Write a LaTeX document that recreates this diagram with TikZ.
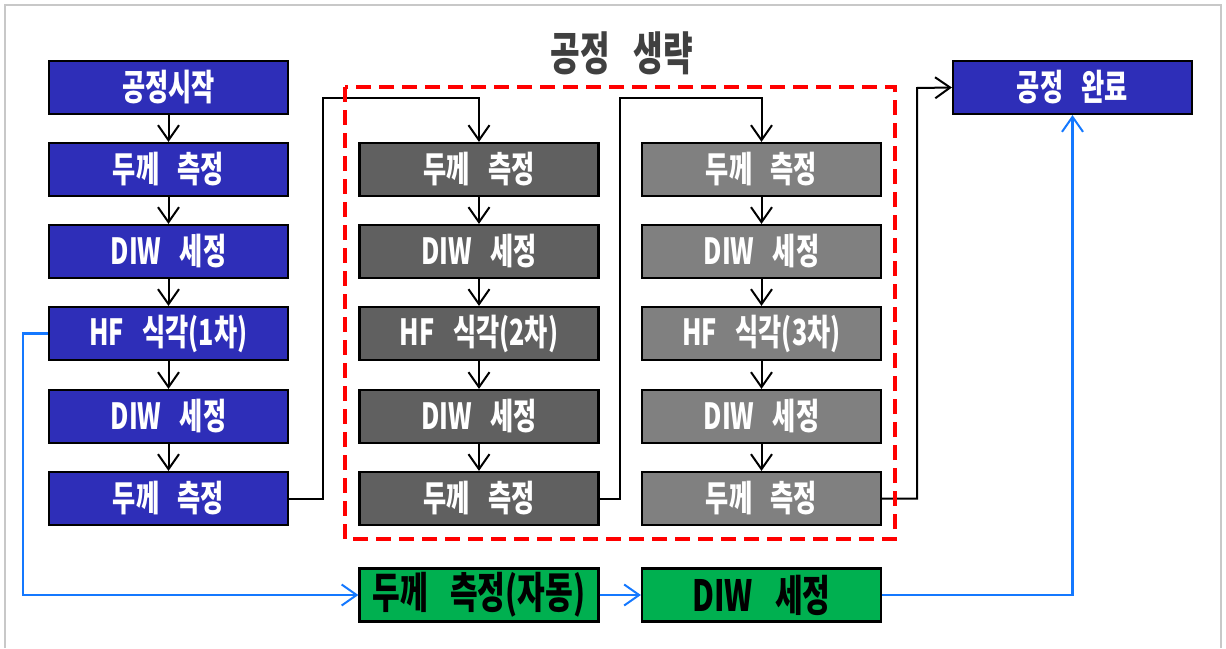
\documentclass[tikz,border=0pt]{standalone}
\usepackage{fontspec}
\usepackage{tikz}
\usetikzlibrary{arrows.meta}
\newfontfamily\kfont[FakeStretch=0.7,WordSpace=3.2]{Noto Sans CJK KR}
\definecolor{stepblue}{RGB}{46,46,184}
\definecolor{skipdark}{RGB}{96,96,96}
\definecolor{skiplight}{RGB}{128,128,128}
\definecolor{autogreen}{RGB}{0,176,80}
\definecolor{autoblue}{RGB}{20,120,255}
\definecolor{titlegray}{RGB}{64,64,64}
\definecolor{framegray}{RGB}{200,200,200}

\begin{document}
\begin{tikzpicture}[x=1pt,y=-1pt,
  >={Straight Barb[length=15pt,width=21pt,line width=2pt]},
  procbox/.style={draw=black,line width=2.2pt,minimum width=239pt,minimum height=53pt,inner sep=0pt,
    font=\kfont\bfseries\fontsize{36}{36}\selectfont,text=white},
  autobox/.style={procbox,fill=autogreen,text=black,font=\kfont\bfseries\fontsize{43}{43}\selectfont},
  flow/.style={->,black,line width=2pt},
  bypass/.style={->,autoblue,line width=2.2pt}]
\useasboundingbox (0,0) rectangle (1226,648);
\draw[framegray,line width=2.5pt] (5,648) -- (5,5) -- (1221,5) -- (1221,648);

% main line
\node[procbox,fill=stepblue] (a1) at (168.5,87.5) {공정시작};
\node[procbox,fill=stepblue] (a2) at (168.5,169.5) {두께 측정};
\node[procbox,fill=stepblue] (a3) at (168.5,251.5) {DIW 세정};
\node[procbox,fill=stepblue] (a4) at (168.5,333.5) {HF 식각(1차)};
\node[procbox,fill=stepblue] (a5) at (168.5,416.5) {DIW 세정};
\node[procbox,fill=stepblue] (a6) at (168.5,498.5) {두께 측정};

% skipped steps
\node[procbox,fill=skipdark] (b1) at (479,169.5) {두께 측정};
\node[procbox,fill=skipdark] (b2) at (479,251.5) {DIW 세정};
\node[procbox,fill=skipdark] (b3) at (479,333.5) {HF 식각(2차)};
\node[procbox,fill=skipdark] (b4) at (479,416.5) {DIW 세정};
\node[procbox,fill=skipdark] (b5) at (479,498.5) {두께 측정};

\node[procbox,fill=skiplight] (c1) at (761.5,169.5) {두께 측정};
\node[procbox,fill=skiplight] (c2) at (761.5,251.5) {DIW 세정};
\node[procbox,fill=skiplight] (c3) at (761.5,333.5) {HF 식각(3차)};
\node[procbox,fill=skiplight] (c4) at (761.5,416.5) {DIW 세정};
\node[procbox,fill=skiplight] (c5) at (761.5,498.5) {두께 측정};

\node[procbox,fill=stepblue] (done) at (1072.5,87.5) {공정 완료};

% new line
\node[autobox] (g1) at (479,595) {두께 측정(자동)};
\node[autobox] (g2) at (761.5,595) {DIW 세정};

\node[font=\kfont\bfseries\fontsize{46}{46}\selectfont,text=titlegray] (skip) at (622,53) {공정 생략};

\draw[flow] (a1) -- (a2);
\draw[flow] (a2) -- (a3);
\draw[flow] (a3) -- (a4);
\draw[flow] (a4) -- (a5);
\draw[flow] (a5) -- (a6);
\draw[flow] (b1) -- (b2);
\draw[flow] (b2) -- (b3);
\draw[flow] (b3) -- (b4);
\draw[flow] (b4) -- (b5);
\draw[flow] (c1) -- (c2);
\draw[flow] (c2) -- (c3);
\draw[flow] (c3) -- (c4);
\draw[flow] (c4) -- (c5);

\coordinate (j1) at (323,98);
\coordinate (j2) at (620,98);
\coordinate (j3) at (917,88);
\draw[flow] (a6.east) -| (j1) -| (b1.north);
\draw[flow] (b5.east) -| (j2) -| (c1.north);
\draw[flow] (c5.east) -| (j3) -- (done.west);

\coordinate (k1) at (23,595);
\draw[bypass] (a4.west) -| (k1) -- (g1.west);
\draw[bypass] (g1) -- (g2);
\draw[bypass] (g2.east) -| (done.south);

\draw[red,line width=4.5pt,dash pattern=on 15pt off 8pt] (345,87) rectangle (895,539);
\end{tikzpicture}
\end{document}
